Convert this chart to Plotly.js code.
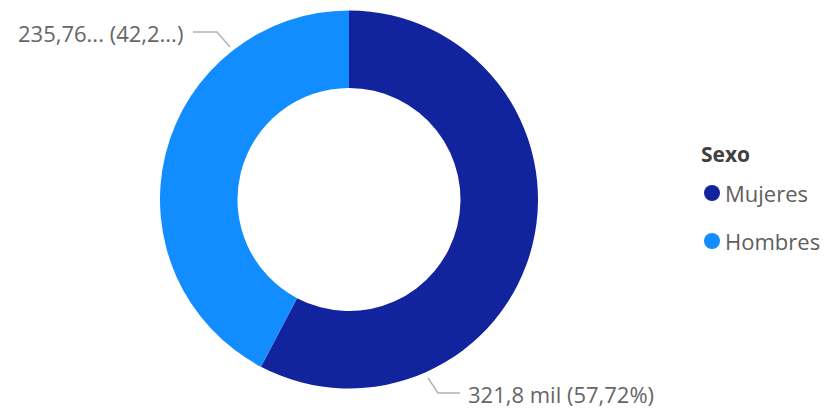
<!DOCTYPE html>
<html>
<head>
<meta charset="utf-8">
<script src="https://cdn.plot.ly/plotly-3.0.1.min.js"></script>
<style>html,body{margin:0;padding:0;background:#fff;}#chart{width:832px;height:409px;}</style>
</head>
<body>
<div id="chart"></div>
<script>
// Data
const categories = ["Mujeres", "Hombres"];
const values = [321800, 235760];
const dataLabels = ["321,8 mil (57,72%)", "235,76... (42,2...)"];
const colors = ["#12239E", "#118DFF"];
const legendTitle = "Sexo";

const W = 832, H = 409;
const px = x => x / W;
const py = y => 1 - y / H;
const FONT = "Open Sans, Segoe UI, sans-serif";

const trace = {
  type: "pie",
  labels: categories,
  values: values,
  hole: 0.59,
  sort: false,
  direction: "clockwise",
  rotation: 0,
  textinfo: "none",
  hoverinfo: "label+value+percent",
  marker: { colors: colors, line: { width: 0 } },
  domain: { x: [px(160), px(538)], y: [py(389), py(10)] },
  showlegend: false
};

// label positions (decorative placement, pixels)
const labelPos = [
  { x: 466, y: 394, anchor: "left", line: [[428, 378], [438, 393], [460, 393]] },
  { x: 185, y: 33, anchor: "right", line: [[193, 32], [217, 32], [230, 47]] }
];

const annotations = [];
const shapes = [];
labelPos.forEach((p, i) => {
  annotations.push({
    xref: "paper", yref: "paper", x: px(p.x), y: py(p.y),
    xanchor: p.anchor, yanchor: "middle", showarrow: false,
    text: dataLabels[i], font: { family: FONT, size: 22, color: "#666666" }
  });
  const path = p.line.map((pt, k) => (k ? "L" : "M") + px(pt[0]) + "," + py(pt[1])).join(" ");
  shapes.push({ type: "path", xref: "paper", yref: "paper", path: path,
    line: { color: "#b3b3b3", width: 1.5 } });
});

// custom legend
annotations.push({
  xref: "paper", yref: "paper", x: px(699), y: py(154), xanchor: "left", yanchor: "middle",
  showarrow: false, text: "<b>" + legendTitle + "</b>",
  font: { family: FONT, size: 21, color: "#404040" }
});
categories.forEach((c, i) => {
  const cy = 193 + i * 48;
  shapes.push({
    type: "circle", xref: "paper", yref: "paper", xsizemode: "pixel", ysizemode: "pixel",
    xanchor: px(712), yanchor: py(cy), x0: -8, x1: 8, y0: -8, y1: 8,
    fillcolor: colors[i], line: { width: 0 }
  });
  annotations.push({
    xref: "paper", yref: "paper", x: px(723), y: py(cy), xanchor: "left", yanchor: "middle",
    showarrow: false, text: c, font: { family: FONT, size: 22, color: "#605E5C" }
  });
});

const layout = {
  width: W, height: H,
  margin: { l: 0, r: 0, t: 0, b: 0 },
  paper_bgcolor: "#ffffff",
  showlegend: false,
  annotations: annotations,
  shapes: shapes
};

Plotly.newPlot("chart", [trace], layout, { displayModeBar: false, staticPlot: true });
</script>
</body>
</html>
